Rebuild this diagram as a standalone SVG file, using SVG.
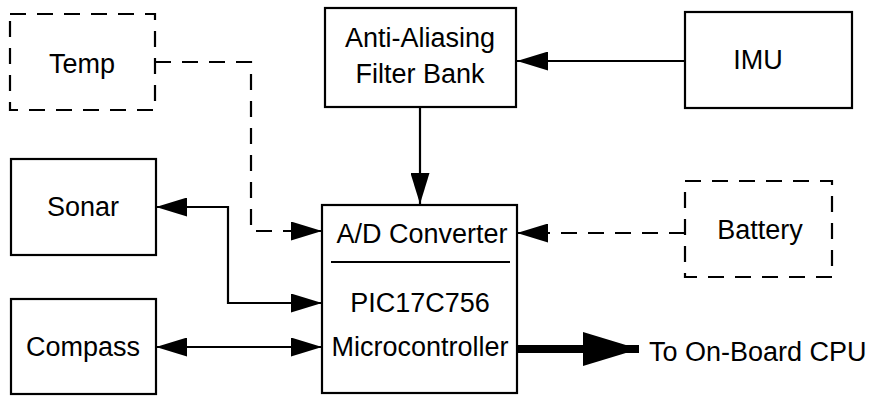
<svg xmlns="http://www.w3.org/2000/svg" width="877" height="396" viewBox="0 0 877 396">
<style>
.box{fill:#fff;stroke:#000;stroke-width:2.2}
.dbox{fill:#fff;stroke:#000;stroke-width:2.2;stroke-dasharray:16 11}
.t{font-family:"Liberation Sans",Arial,sans-serif;font-size:27px;fill:#000;text-anchor:middle}
.ln{fill:none;stroke:#000;stroke-width:2.2}
.dl{fill:none;stroke:#000;stroke-width:2.2;stroke-dasharray:16 11}
</style>
<defs>
<marker id="ah" viewBox="0 0 31 19" refX="31" refY="9.5" markerWidth="31" markerHeight="19" markerUnits="userSpaceOnUse" orient="auto-start-reverse">
<path d="M0,0 L31,9.5 L0,19 Z" fill="#000"/>
</marker>
<marker id="big" viewBox="0 0 56 34" refX="56" refY="17" markerWidth="56" markerHeight="34" markerUnits="userSpaceOnUse" orient="auto">
<path d="M0,0 L56,17 L0,34 Z" fill="#000"/>
</marker>
</defs>
<g id="connectors">
<path class="ln" d="M685,61 L517,61" marker-end="url(#ah)"/>
<path class="ln" d="M420,107 L420,204" marker-end="url(#ah)"/>
<path class="dl" d="M155,62 L251,62 L251,231 L322,231" marker-end="url(#ah)"/>
<path class="dl" d="M685,233 L517,233" marker-end="url(#ah)"/>
<path class="ln" d="M156,207 L228,207 L228,303 L322,303" marker-start="url(#ah)" marker-end="url(#ah)"/>
<path class="ln" d="M156,347 L322,347" marker-start="url(#ah)" marker-end="url(#ah)"/>
<path d="M517,349 L639,349" fill="none" stroke="#000" stroke-width="8" marker-end="url(#big)"/>
</g>
<g id="temp"><rect class="dbox" x="10" y="14" width="145" height="96"/><text class="t" x="82" y="73">Temp</text></g>
<g id="filter"><rect class="box" x="325" y="8" width="191" height="99"/><text class="t" x="420" y="47">Anti-Aliasing</text><text class="t" x="420" y="83">Filter Bank</text></g>
<g id="imu"><rect class="box" x="685" y="12" width="167" height="96"/><text class="t" x="758" y="69">IMU</text></g>
<g id="sonar"><rect class="box" x="11" y="159" width="145" height="96"/><text class="t" x="83" y="216">Sonar</text></g>
<g id="battery"><rect class="dbox" x="685" y="181" width="147" height="96"/><text class="t" x="760" y="239">Battery</text></g>
<g id="compass"><rect class="box" x="11" y="299" width="145" height="95"/><text class="t" x="83" y="356">Compass</text></g>
<g id="mcu"><rect class="box" x="322" y="205" width="195" height="188"/><line class="ln" x1="331" y1="262" x2="510" y2="262"/><text class="t" x="422" y="243">A/D Converter</text><text class="t" x="420" y="312">PIC17C756</text><text class="t" x="420" y="356">Microcontroller</text></g>
<g id="cpu"><text class="t" x="649" y="361" style="text-anchor:start">To On-Board CPU</text></g>
</svg>
